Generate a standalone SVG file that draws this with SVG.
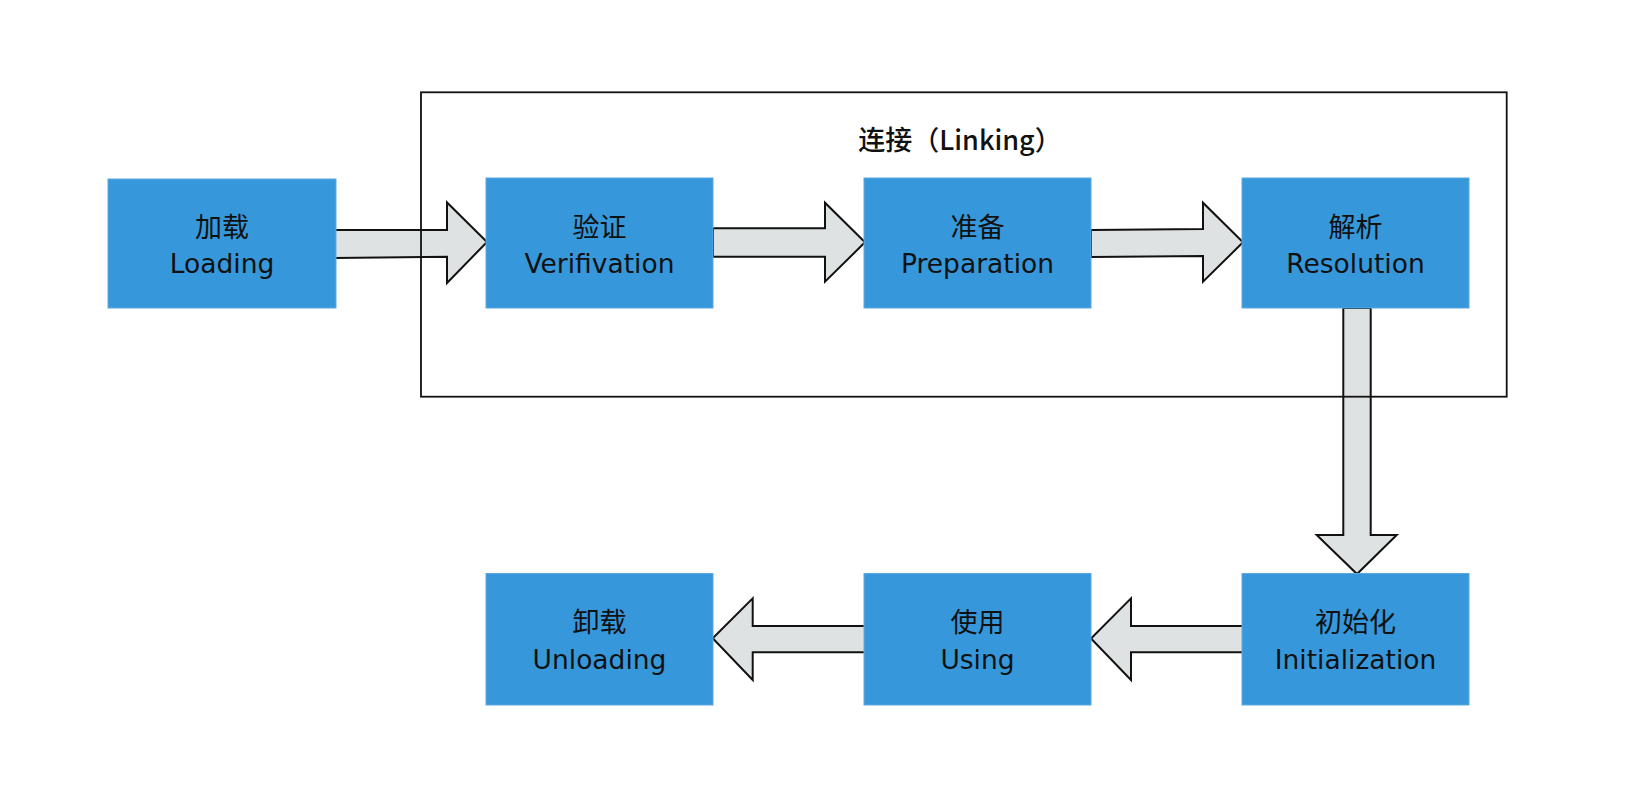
<svg xmlns="http://www.w3.org/2000/svg" width="1645" height="794" viewBox="0 0 1645 794">
  <style>
    .box { fill: #3698db; stroke: #5aa9e0; stroke-width: 1; }
    .zh { font-family: "Noto Sans CJK SC", "DejaVu Sans", sans-serif; font-size: 27px; fill: #111; text-anchor: middle; }
    .en { font-family: "DejaVu Sans", "Noto Sans CJK SC", sans-serif; font-size: 26.5px; fill: #111; text-anchor: middle; }
    .arrow { fill: #dfe2e3; stroke: #111; stroke-width: 2; stroke-linejoin: miter; }
    .frame { fill: none; stroke: #111; stroke-width: 1.8; }
    .title { font-family: "Noto Sans CJK SC", sans-serif; font-size: 27px; font-weight: 500; fill: #111; text-anchor: middle; }
  </style>
  <rect width="1645" height="794" fill="#ffffff"/>

  <g id="connectors">
    <path class="arrow" d="M335,230 L447,230 L447,202.5 L487,242 L447,283 L447,256.7 L335,258 Z"/>
    <path class="arrow" d="M713,228.3 L825,228.3 L825,202.7 L865,242.3 L825,281.7 L825,256.7 L713,256.7 Z"/>
    <path class="arrow" d="M1091,230 L1203,229 L1203,202.7 L1243,242.3 L1203,281.7 L1203,256 L1091,257 Z"/>
    <path class="arrow" d="M1343.3,308 L1370.7,308 L1370.7,535 L1396.7,535 L1357,574 L1316.7,535 L1343.3,535 Z"/>
    <path class="arrow" d="M1243,626 L1243,652.3 L1131,652.3 L1131,680 L1091,638.5 L1131,598.3 L1131,626 Z"/>
    <path class="arrow" d="M865.7,626 L865.7,652.3 L752.7,652.3 L752.7,680 L712.7,638.3 L752.7,598.3 L752.7,626 Z"/>
  </g>

  <g id="linking">
    <rect class="frame" x="421" y="92.3" width="1085.7" height="304.4"/>
    <text class="title" x="960" y="150">连接（Linking）</text>
  </g>

  <g id="loading">
    <rect class="box" x="108" y="179" width="228" height="129"/>
    <text class="zh" x="222" y="237">加载</text>
    <text class="en" x="222" y="273">Loading</text>
  </g>
  <g id="verification">
    <rect class="box" x="486" y="178" width="227" height="130"/>
    <text class="zh" x="599.5" y="237">验证</text>
    <text class="en" x="599.5" y="273">Verifivation</text>
  </g>
  <g id="preparation">
    <rect class="box" x="864" y="178" width="227" height="130"/>
    <text class="zh" x="977.5" y="237">准备</text>
    <text class="en" x="977.5" y="273">Preparation</text>
  </g>
  <g id="resolution">
    <rect class="box" x="1242" y="178" width="227" height="130"/>
    <text class="zh" x="1355.5" y="237">解析</text>
    <text class="en" x="1355.5" y="273">Resolution</text>
  </g>
  <g id="initialization">
    <rect class="box" x="1242" y="573.5" width="227" height="131.5"/>
    <text class="zh" x="1355.5" y="632">初始化</text>
    <text class="en" x="1355.5" y="669">Initialization</text>
  </g>
  <g id="using">
    <rect class="box" x="864" y="573.5" width="227" height="131.5"/>
    <text class="zh" x="977.5" y="632">使用</text>
    <text class="en" x="977.5" y="669">Using</text>
  </g>
  <g id="unloading">
    <rect class="box" x="486" y="573.5" width="227" height="131.5"/>
    <text class="zh" x="599.5" y="632">卸载</text>
    <text class="en" x="599.5" y="669">Unloading</text>
  </g>
</svg>
